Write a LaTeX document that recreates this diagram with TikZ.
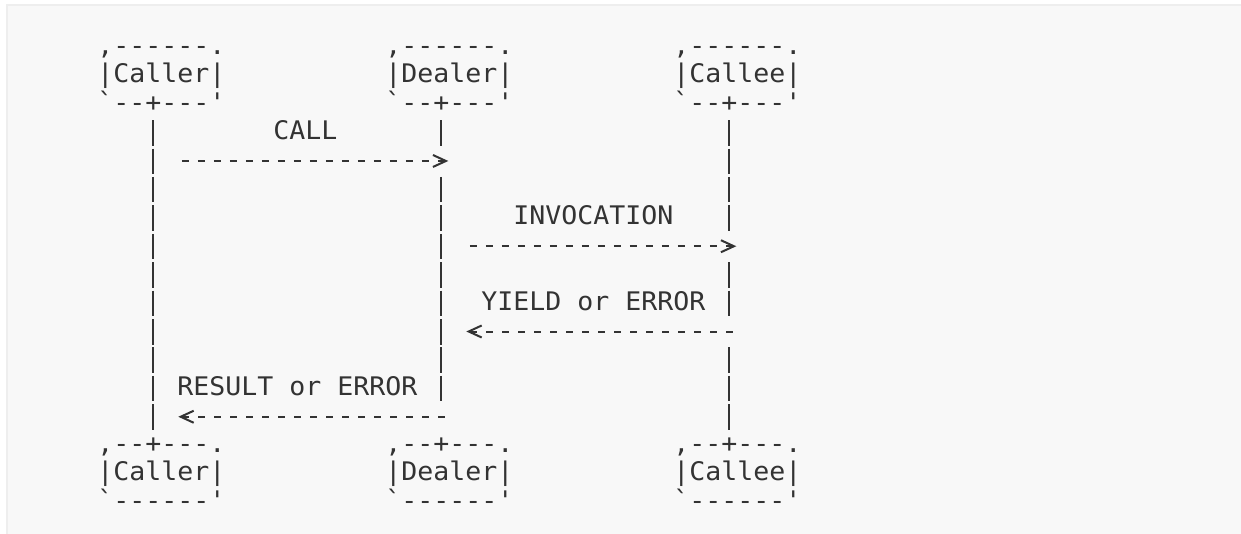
\documentclass[tikz,border=0pt]{standalone}
\usepackage{fontspec}
\setmonofont{DejaVu Sans Mono}[FakeStretch=1.038]
\usetikzlibrary{arrows.meta,calc}
\definecolor{ink}{HTML}{333333}
\definecolor{bgc}{HTML}{F8F8F8}
\definecolor{rim}{HTML}{EEEEEE}
\begin{document}
\begin{tikzpicture}[x=1pt,y=-1pt,
  every node/.style={inner sep=0pt, outer sep=0pt, text=ink,
    font=\ttfamily\fontsize{25.6pt}{28.42pt}\selectfont},
  box/.style={anchor=base},
  lbl/.style={anchor=base west},
  lifeline/.style={draw=ink, line width=2.1pt, dash pattern=on 25.5pt off 2.92pt},
  msg/.style={draw=ink, line width=2pt, dash pattern=on 7pt off 9pt,
    -{Straight Barb[length=13pt,width=12pt,line width=2pt]}},
]
\useasboundingbox (0,0) rectangle (1241,534);
\fill[rim] (6,4) rectangle (1241,534);
\fill[bgc] (8,6) rectangle (1241,534);

% participant boxes
\node[box] (callerTop) at (161.3,111.14) {\vbox{\hbox{,------.}\hbox{|Caller|}\hbox{`--+---'}}};
\node[box] (dealerTop) at (449.3,111.14) {\vbox{\hbox{,------.}\hbox{|Dealer|}\hbox{`--+---'}}};
\node[box] (calleeTop) at (737.3,111.14) {\vbox{\hbox{,------.}\hbox{|Callee|}\hbox{`--+---'}}};
\node[box] (callerBot) at (161.3,509.02) {\vbox{\hbox{,--+---.}\hbox{|Caller|}\hbox{`------'}}};
\node[box] (dealerBot) at (449.3,509.02) {\vbox{\hbox{,--+---.}\hbox{|Dealer|}\hbox{`------'}}};
\node[box] (calleeBot) at (737.3,509.02) {\vbox{\hbox{,--+---.}\hbox{|Callee|}\hbox{`------'}}};

% lifelines
\draw[lifeline] ($(callerTop.base)+(-8,8.97)$) -- ($(callerBot.base)+(-8,-79.21)$);
\draw[lifeline] ($(dealerTop.base)+(-8,8.97)$) -- ($(dealerTop.base)+(-8,34.47)$);
\draw[lifeline] ($(dealerTop.base)+(-8,65.81)$) -- ($(dealerBot.base)+(-8,-107.63)$);
\draw[lifeline] ($(calleeTop.base)+(-8,8.97)$) -- ($(calleeTop.base)+(-8,119.73)$);
\draw[lifeline] ($(calleeTop.base)+(-8,151.07)$) -- ($(calleeTop.base)+(-8,204.99)$);
\draw[lifeline] ($(calleeTop.base)+(-8,236.33)$) -- ($(calleeBot.base)+(-8,-79.21)$);

% messages
\draw[msg] ($(callerTop.base)+(20.5,49.84)$) -- ($(dealerTop.base)+(-1,49.84)$);
\draw[msg] ($(dealerTop.base)+(20.5,135.10)$) -- ($(calleeTop.base)+(-1,135.10)$);
\draw[msg] ($(calleeTop.base)+(-4.5,220.36)$) -- ($(dealerTop.base)+(17,220.36)$);
\draw[msg] ($(dealerTop.base)+(-4.5,305.62)$) -- ($(callerTop.base)+(17,305.62)$);

% labels
\node[lbl] (lcall) at (273.3,139.56) {CALL};
\node[lbl] (linv) at (513.3,224.82) {INVOCATION};
\node[lbl] (lyield) at (481.3,310.08) {YIELD or ERROR};
\node[lbl] (lresult) at (177.3,395.34) {RESULT or ERROR};
\end{tikzpicture}
\end{document}
